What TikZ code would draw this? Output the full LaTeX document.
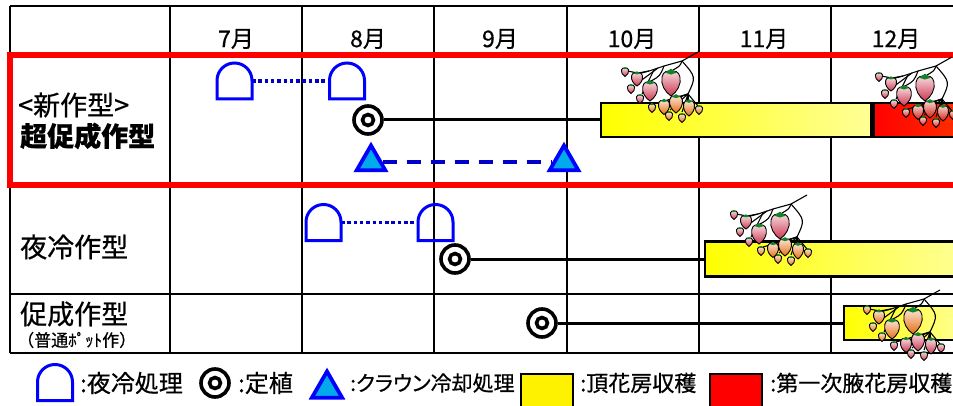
\documentclass[tikz,border=0pt]{standalone}
\usepackage{fontspec}
\setmainfont{Noto Sans CJK JP}[FakeBold=0.6]
\usetikzlibrary{shapes.geometric}

\definecolor{domeblue}{RGB}{0,0,255}
\definecolor{linkblue}{RGB}{0,0,200}
\definecolor{crowncyan}{RGB}{0,170,235}
\definecolor{paleyellow}{RGB}{255,255,150}
\definecolor{orangered}{RGB}{255,55,0}
\definecolor{berrypink}{RGB}{205,55,80}
\definecolor{berryorange}{RGB}{230,110,20}
\definecolor{berryred}{RGB}{215,30,20}
\definecolor{leafgreen}{RGB}{20,130,40}

\tikzset{
  grid line/.style={line width=1.6pt},
  frame/.style={line width=5.5pt, red},
  month/.style={font=\fontsize{23}{26}\selectfont},
  rowname/.style={anchor=west, inner sep=0pt, font=\fontsize{27}{30}\selectfont},
  dome/.style={minimum width=35pt, minimum height=36pt, inner sep=0pt, outer sep=0pt},
  dome line/.style={domeblue, line width=3pt},
  plant/.style={circle, draw, line width=3.6pt, minimum size=28pt, inner sep=0pt, fill=white,
    path picture={\draw[line width=3.6pt] (path picture bounding box.center) circle (5.5pt);}},
  crown/.style={regular polygon, regular polygon sides=3, draw=domeblue, fill=crowncyan,
    line width=3.8pt, minimum size=33pt, inner sep=0pt},
  cool link/.style={linkblue, line width=3.6pt, dash pattern=on 3.5pt off 2.8pt},
  crown link/.style={linkblue, line width=3.2pt, dash pattern=on 14pt off 10pt},
  grow link/.style={line width=3pt},
  bar/.style={draw, line width=2.4pt, minimum height=34pt, inner sep=0pt, anchor=west},
  top bar/.style={bar, left color=yellow, right color=paleyellow},
  axil bar/.style={bar, left color=red, right color=orangered},
  key/.style={anchor=west, inner sep=0pt},
  keybox/.style={draw, line width=2.4pt, minimum width=52pt, minimum height=36pt, anchor=south west},
  stem/.style={line width=1.1pt},
  berry line/.style={line width=0.9pt},
}

% one strawberry: centre (#1,#2), half sizes #3 x #4, colour of the tip #5
\newcommand\berry[5]{%
  \begin{scope}[shift={(#1,#2)}, xscale=#3, yscale=#4]
    \draw[berry line, top color=#5!15!white, bottom color=#5]
      (0,-1) .. controls (-0.6,-0.7) and (-1.05,-0.1) .. (-0.9,0.45)
      .. controls (-0.8,0.9) and (-0.3,1) .. (0,0.85)
      .. controls (0.3,1) and (0.8,0.9) .. (0.9,0.45)
      .. controls (1.05,-0.1) and (0.6,-0.7) .. (0,-1) -- cycle;
    \fill[leafgreen] (-0.6,0.8) -- (0,1.1) -- (0.6,0.8) -- (0,0.65) -- cycle;
  \end{scope}}

% a truss of strawberries hanging from its stem tip at (0,0)
\tikzset{
  pics/berries/.style 2 args={code={
    \draw[stem] (0,0) -- (-16,-9) -- (-34,-14) -- (-49,-19) -- (-60,-21) -- (-71,-19);
    \draw[stem] (-16,-9) .. controls (-18,-14) .. (-25,-18);
    \draw[stem] (-34,-14) .. controls (-38,-24) .. (-47,-29);
    \draw[stem] (-49,-19) -- (-60,-22);
    \draw[stem] (-40,-16) -- (-63,-33);
    \draw[stem] (-44,-18) -- (-56,-42);
    \draw[stem] (-16,-9) .. controls (-2,-25) .. (-10,-42);
    \foreach \bx/\by in {-22/-46,-32/-50,-10/-50,0/-54,-44/-52,-28/-58,-16/-60}
      \draw[stem] (-10,-42) -- (\bx,\by);
    \berry{-73}{-20}{4}{4.5}{#1}
    \berry{-67}{-37}{4}{4.5}{#1}
    \berry{-58}{-47}{4}{4.5}{#1}
    \berry{-61}{-27}{6}{7}{#1}
    \berry{-48}{-39}{8}{10}{#1}
    \berry{-27}{-31}{10}{13}{#1}
    \berry{-46}{-56}{4}{4.5}{#2}
    \berry{-29}{-64}{4}{4.5}{#2}
    \berry{-16}{-66}{4}{4.5}{#2}
    \berry{1}{-58}{4}{4.5}{#2}
    \berry{-34}{-55}{6}{7.5}{#2}
    \berry{-9}{-56}{6}{8}{#2}
    \berry{-22}{-52}{7}{9}{#2}
  }}
}

\begin{document}
\begin{tikzpicture}[x=1pt, y=1pt]
  \useasboundingbox (0,0) rectangle (953,405);
  \clip (0,0) rectangle (953,405);

  % table
  \foreach \y in {399,350,220,111,52} \draw[grid line] (10,\y) -- (960,\y);
  \foreach \x in {10,170,302,434,567,699,831} \draw[grid line] (\x,52) -- (\x,399);
  \foreach \m [count=\i from 0] in {7,...,12} \node[month] (m\m) at (236+132*\i,366) {\m 月};

  \node[rowname] (newtype) at (18,300) {<新作型>};
  \node[rowname, font=\fontsize{27}{30}\selectfont\bfseries] (superforcing) at (20,269) {超促成作型};
  \node[rowname] (nightcool) at (20,158) {夜冷作型};
  \node[rowname] (forcing) at (20,91) {促成作型};
  \node[rowname, font=\fontsize{17}{20}\selectfont] (pot) at (17,65) {（普通ﾎﾟｯﾄ作）};

  % super forcing
  \node[dome] (d1) at (234.5,324) {};
  \node[dome] (d2) at (347,324) {};
  \node[plant] (p1) at (368,285) {};
  \node[top bar, minimum width=270pt] (y1) at (600,285) {};
  \node[axil bar, minimum width=100pt] (r1) at (y1.east) {};
  \node[crown] (t1) at (371,243) {};
  \node[crown] (t2) at (564,243) {};
  \draw[cool link] (d1.east) -- (d2.west);
  \draw[grow link] (p1) -- (y1);
  \draw[crown link] (t1) -- (t2);

  % night cooling
  \node[dome] (d3) at (323.5,182.5) {};
  \node[dome] (d4) at (435.5,182.5) {};
  \node[plant] (p2) at (455,146) {};
  \node[top bar, minimum width=260pt, minimum height=35pt] (y2) at (704,146) {};
  \draw[cool link] (d3.east) -- (d4.west);
  \draw[grow link] (p2) -- (y2);

  % forcing
  \node[plant] (p3) at (542,82) {};
  \node[top bar, minimum width=120pt] (y3) at (843,82) {};
  \draw[grow link] (p3) -- (y3);

  \draw[frame] (960,350) -- (10,350) -- (10,220) -- (960,220);

  % legend
  \node[dome] (kdome) at (55,22.5) {};
  \node[key, font=\fontsize{24}{26}\selectfont] (kcool) at (80,22) {:夜冷処理};
  \node[plant] (kplant) at (215,22) {};
  \node[key, font=\fontsize{24}{26}\selectfont] (kset) at (238,22) {:定植};
  \node[crown, minimum size=35pt] (kcrown) at (327,16) {};
  \node[key, font=\fontsize{21}{24}\selectfont] (kchill) at (350,22)
    {:{\addfontfeature{RawFeature=+palt}クラウン}冷却処理};
  \node[keybox, fill=yellow] (kyellow) at (520,-6) {};
  \node[key, font=\fontsize{22}{25}\selectfont] (ktop) at (580,22) {:頂花房収穫};
  \node[keybox, fill=red] (kred) at (709,-6) {};
  \node[key, font=\fontsize{22}{25}\selectfont] (kaxil) at (770,22) {:第一次腋花房収穫};

  \foreach \d in {d1,d2,d3,d4,kdome}
    \draw[dome line] (\d.south west) -- ++(0,18.5) arc[start angle=180, end angle=0, radius=17.5]
      -- (\d.south east) -- cycle;

  % harvest
  \pic at (698,353) {berries={berrypink}{berryorange}};
  \pic at (952,348) {berries={berrypink}{berryred}};
  \pic at (807,210) {berries={berrypink}{berryorange}};
  \pic at (940,115) {berries={berryorange}{berrypink}};
\end{tikzpicture}
\end{document}
